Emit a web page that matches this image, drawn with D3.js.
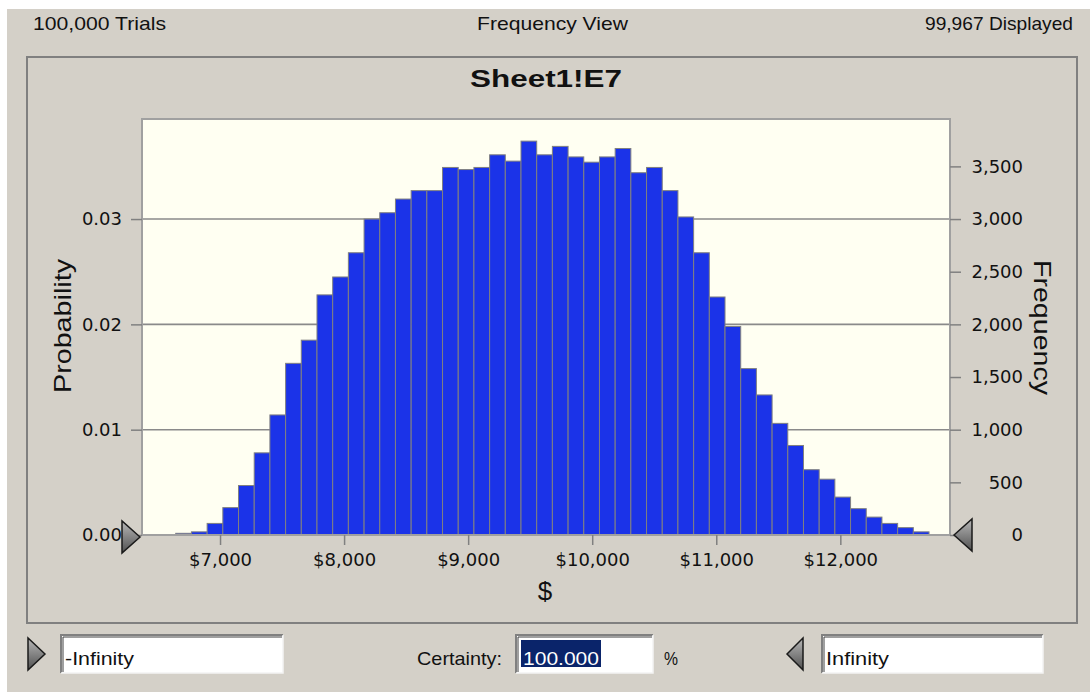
<!DOCTYPE html>
<html>
<head>
<meta charset="utf-8">
<script src="https://cdn.jsdelivr.net/npm/d3@7"></script>
<style>
  body { margin: 0; background: #fff; }
  svg text { font-family: "DejaVu Sans", Verdana, sans-serif; fill: #111; }
  svg text.ui { font-family: "Liberation Sans", Arial, sans-serif; }
</style>
</head>
<body>
<div id="chart"></div>
<script>
// Forecast chart: Sheet1!E7, 100,000 trials

const width = 1090;
const height = 693;
const plot = {left: 142, right: 950, top: 119, bottom: 535};

const trials = 100000;
const displayed = 99967;

// lower edge of each bin ($), last value is the upper edge of the last bin
const binEdges = [6643, 6769.5, 6896, 7022.5, 7149, 7275.5, 7402, 7528.5, 7655, 7781.5,
  7908, 8034.5, 8161, 8287.5, 8414, 8540.5, 8667, 8793.5, 8920, 9046.5,
  9173, 9299.5, 9426, 9552.5, 9679, 9805.5, 9932, 10058.5, 10185, 10311.5,
  10438, 10564.5, 10691, 10817.5, 10944, 11070.5, 11197, 11323.5, 11450, 11576.5,
  11703, 11829.5, 11956, 12082.5, 12209, 12335.5, 12462, 12588.5, 12715];

// frequency in each bin
const counts = [16, 30, 110, 260, 470, 780, 1140, 1630, 1850, 2280,
  2450, 2680, 3000, 3060, 3190, 3270, 3270, 3490, 3470, 3490,
  3610, 3550, 3740, 3610, 3690, 3590, 3540, 3590, 3670, 3440,
  3490, 3270, 3020, 2680, 2260, 1980, 1580, 1330, 1060, 850,
  620, 530, 360, 250, 170, 110, 70, 30];

const xTicks = [7000, 8000, 9000, 10000, 11000, 12000];
const probTicks = [0, 0.01, 0.02, 0.03];
const freqTicks = [0, 500, 1000, 1500, 2000, 2500, 3000, 3500];

const svg = d3.select("#chart")
  .append("svg")
  .attr("width", width)
  .attr("height", height);

// window background
svg.append("rect").attr("width", width).attr("height", height).attr("fill", "#fff");
svg.append("rect").attr("x", 7).attr("y", 9).attr("width", width - 7).attr("height", 683)
  .attr("fill", "#d4d0c8");

// header line
const label = (x, y, size, len, txt) =>
  svg.append("text").attr("class", "ui")
    .attr("x", x).attr("y", y).attr("font-size", size)
    .attr("textLength", len).attr("lengthAdjust", "spacingAndGlyphs")
    .text(txt);

label(33, 30, 19, 133, d3.format(",")(trials) + " Trials");
label(477, 30, 19, 151, "Frequency View");
label(925, 30, 19, 148, d3.format(",")(displayed) + " Displayed");

// chart panel
svg.append("rect").attr("x", 27).attr("y", 57).attr("width", 1050).attr("height", 566)
  .attr("fill", "none").attr("stroke", "#808080").attr("stroke-width", 2);

label(470, 87, 23, 152, "Sheet1!E7").attr("font-weight", "bold");

/* scales */
let xScale = d3.scaleLinear()
  .domain([6371, 12884])
  .range([plot.left, plot.right]);

let yFreq = d3.scaleLinear()
  .domain([0, 3950])
  .range([plot.bottom, plot.top]);

let yProb = d3.scaleLinear()
  .domain([0, 3950 / trials])
  .range([plot.bottom, plot.top]);

// plot background
svg.append("rect")
  .attr("x", plot.left).attr("y", plot.top)
  .attr("width", plot.right - plot.left).attr("height", plot.bottom - plot.top)
  .attr("fill", "#fffff2");

// gridlines
svg.append("g").selectAll("line")
  .data(probTicks.filter(d => d > 0))
  .enter().append("line")
    .attr("x1", plot.left).attr("x2", plot.right)
    .attr("y1", d => yProb(d)).attr("y2", d => yProb(d))
    .attr("stroke", "#8a8a8a").attr("stroke-width", 1.6);

// bars
const bins = counts.map((c, i) => ({x0: binEdges[i], x1: binEdges[i + 1], count: c}));

svg.selectAll(".bar")
  .data(bins)
  .enter()
  .append("rect")
    .attr("class", "bar")
    .attr("x", d => xScale(d.x0))
    .attr("y", d => yFreq(d.count))
    .attr("width", d => xScale(d.x1) - xScale(d.x0))
    .attr("height", d => plot.bottom - yFreq(d.count))
    .attr("fill", "#1b33e8")
    .attr("stroke", "#808080")
    .attr("stroke-width", 1);

// plot frame
svg.append("rect")
  .attr("x", plot.left).attr("y", plot.top)
  .attr("width", plot.right - plot.left).attr("height", plot.bottom - plot.top)
  .attr("fill", "none").attr("stroke", "#a0a0a0").attr("stroke-width", 2);

/* axes */
const styleAxis = g => {
  g.select(".domain").remove();
  g.selectAll(".tick line").attr("stroke", "#808080").attr("stroke-width", 1.5);
  g.selectAll(".tick text").attr("font-size", 18).attr("fill", "#111")
    .attr("font-family", '"DejaVu Sans", Verdana, sans-serif');
};

svg.append("g")
  .attr("transform", `translate(${plot.left}, 0)`)
  .call(d3.axisLeft(yProb).tickValues(probTicks).tickFormat(d3.format(".2f"))
        .tickSize(11).tickPadding(9))
  .call(styleAxis);

svg.append("g")
  .attr("transform", `translate(${plot.right}, 0)`)
  .call(d3.axisRight(yFreq).tickValues(freqTicks).tickFormat(d3.format(","))
        .tickSize(11).tickPadding(10))
  .call(styleAxis)
  .selectAll(".tick text")
    .attr("text-anchor", "end")
    .attr("x", 73);

svg.append("g")
  .attr("transform", `translate(0, ${plot.bottom})`)
  .call(d3.axisBottom(xScale).tickValues(xTicks).tickFormat(d => "$" + d3.format(",")(d))
        .tickSize(10).tickPadding(8))
  .call(styleAxis);

// axis titles
svg.append("text").attr("class", "ui")
  .attr("transform", "translate(71, 393) rotate(-90)")
  .attr("font-size", 24)
  .attr("textLength", 134).attr("lengthAdjust", "spacingAndGlyphs")
  .text("Probability");

svg.append("text").attr("class", "ui")
  .attr("transform", "translate(1034, 260) rotate(90)")
  .attr("font-size", 24)
  .attr("textLength", 135).attr("lengthAdjust", "spacingAndGlyphs")
  .text("Frequency");

svg.append("text").attr("class", "ui")
  .attr("x", 545).attr("y", 600)
  .attr("text-anchor", "middle")
  .attr("font-size", 26)
  .text("$");

/* grabbers */
const defs = svg.append("defs");
const grad = defs.append("linearGradient").attr("id", "grab").attr("x1", 0).attr("y1", 0).attr("x2", 0).attr("y2", 1);
grad.append("stop").attr("offset", "0%").attr("stop-color", "#b8b8b8");
grad.append("stop").attr("offset", "100%").attr("stop-color", "#505050");

const tri = (tipX, tipY, baseX, half) =>
  `M${tipX},${tipY} L${baseX},${tipY - half} L${baseX},${tipY + half} Z`;

[[140, 537, 122, 16], [954, 535, 972, 16], [45, 654, 28, 16], [787, 654, 803, 16]]
  .forEach(t => {
    svg.append("path").attr("d", tri(t[0], t[1], t[2], t[3]))
      .attr("fill", "url(#grab)").attr("stroke", "#1a1a1a").attr("stroke-width", 1.5);
  });

/* bottom controls */
const textBox = (x, y, w, h) => {
  svg.append("rect").attr("x", x).attr("y", y).attr("width", w).attr("height", h).attr("fill", "#fff");
  svg.append("path").attr("d", `M${x},${y + h} L${x},${y} L${x + w},${y}`)
    .attr("fill", "none").attr("stroke", "#808080").attr("stroke-width", 2);
  svg.append("path").attr("d", `M${x + 2},${y + h - 1} L${x + 2},${y + 2} L${x + w - 1},${y + 2}`)
    .attr("fill", "none").attr("stroke", "#404040").attr("stroke-width", 1);
  svg.append("path").attr("d", `M${x},${y + h} L${x + w},${y + h} L${x + w},${y}`)
    .attr("fill", "none").attr("stroke", "#f4f4f4").attr("stroke-width", 1.5);
};

textBox(61, 635, 222, 38);
textBox(516, 635, 137, 38);
textBox(822, 635, 221, 38);

label(65, 665, 19, 69, "-Infinity");
label(826, 665, 19, 63, "Infinity");
label(417, 665, 19, 85, "Certainty:");
svg.append("rect").attr("x", 521).attr("y", 640).attr("width", 80).attr("height", 27).attr("fill", "#0a246a");
label(523, 665, 19, 76, "100.000").style("fill", "#fff");
label(664, 665, 19, 14, "%");
</script>
</body>
</html>
